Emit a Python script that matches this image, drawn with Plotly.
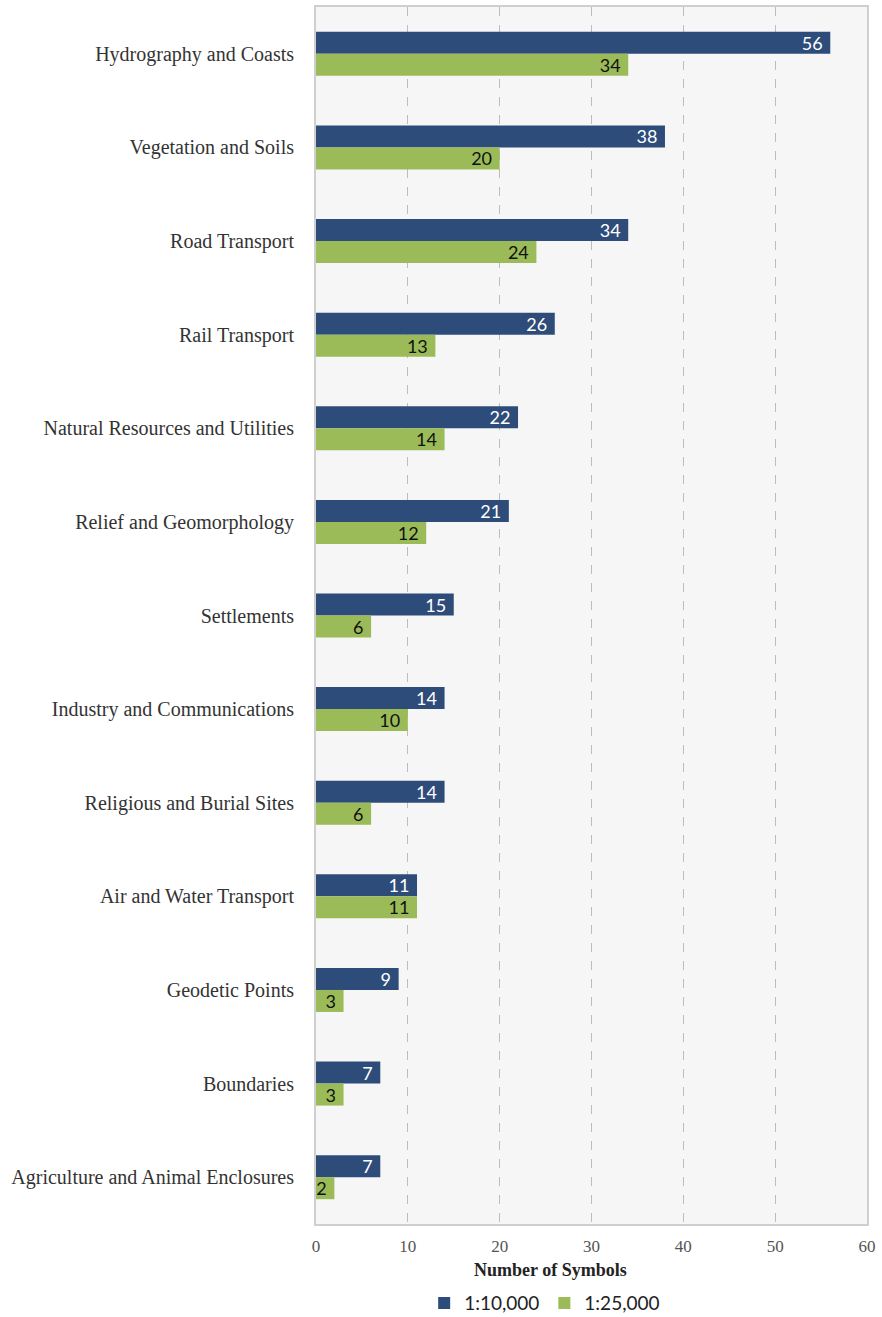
import plotly.graph_objects as go

categories = [
    "Hydrography and Coasts",
    "Vegetation and Soils",
    "Road Transport",
    "Rail Transport",
    "Natural Resources and Utilities",
    "Relief and Geomorphology",
    "Settlements",
    "Industry and Communications",
    "Religious and Burial Sites",
    "Air and Water Transport",
    "Geodetic Points",
    "Boundaries",
    "Agriculture and Animal Enclosures",
]
symbols_10k = [56, 38, 34, 26, 22, 21, 15, 14, 14, 11, 9, 7, 7]
symbols_25k = [34, 20, 24, 13, 14, 12, 6, 10, 6, 11, 3, 3, 2]
series_names = ["1:10,000", "1:25,000"]
x_ticks = [0, 10, 20, 30, 40, 50, 60]

BLUE = "#2e4c7a"
GREEN = "#9bbb59"
SANS = "Lato, 'Open Sans', sans-serif"
SERIF = "'Liberation Serif', 'DejaVu Serif', serif"

fig = go.Figure()
fig.add_trace(go.Bar(
    y=categories, x=symbols_10k, name=series_names[0], orientation="h",
    marker=dict(color=BLUE, line=dict(width=0)),
    texttemplate="%{x}\u00a0", textposition="inside", insidetextanchor="end",
    textangle=0, constraintext="none",
    textfont=dict(family=SANS, size=18, color="white"),
    hoverinfo="x+name",
))
fig.add_trace(go.Bar(
    y=categories, x=symbols_25k, name=series_names[1], orientation="h",
    marker=dict(color=GREEN, line=dict(width=0)),
    texttemplate="%{x}\u00a0", textposition="inside", insidetextanchor="end",
    textangle=0, constraintext="none",
    textfont=dict(family=SANS, size=18, color="#111111"),
    hoverinfo="x+name",
))

fig.update_layout(
    width=882, height=1317,
    margin=dict(l=316, r=15, t=7, b=93, autoexpand=False),
    paper_bgcolor="white",
    plot_bgcolor="#f6f6f6",
    barmode="group",
    bargap=0.53,
    bargroupgap=0,
    showlegend=True,
    legend=dict(
        orientation="h", x=0.415, xanchor="center",
        yref="container", y=0.0106, yanchor="middle",
        font=dict(family=SANS, size=19, color="#222222"),
        traceorder="normal",
    ),
    annotations=[dict(
        text="<b>Number of Symbols</b>", xref="paper", yref="paper",
        x=0.425, y=-0.0378, xanchor="center", yanchor="middle", showarrow=False,
        font=dict(family=SERIF, size=18, color="#222222"),
    )],
)

fig.update_xaxes(
    range=[0, 60], tickvals=x_ticks, ticks="",
    showgrid=True, gridcolor="#bdbdbd", griddash="dash", gridwidth=1,
    zeroline=False,
    showline=True, linecolor="#cfcfcf", linewidth=2, mirror=True,
    tickfont=dict(family=SERIF, size=17, color="#555555"),
    ticklabelstandoff=6,
)
fig.update_yaxes(
    autorange="reversed", ticks="",
    showgrid=False, zeroline=False,
    showline=True, linecolor="#cfcfcf", linewidth=2, mirror=True,
    tickfont=dict(family=SERIF, size=20, color="#333333"),
    ticklabelstandoff=16,
)

fig.write_html("out.html")
